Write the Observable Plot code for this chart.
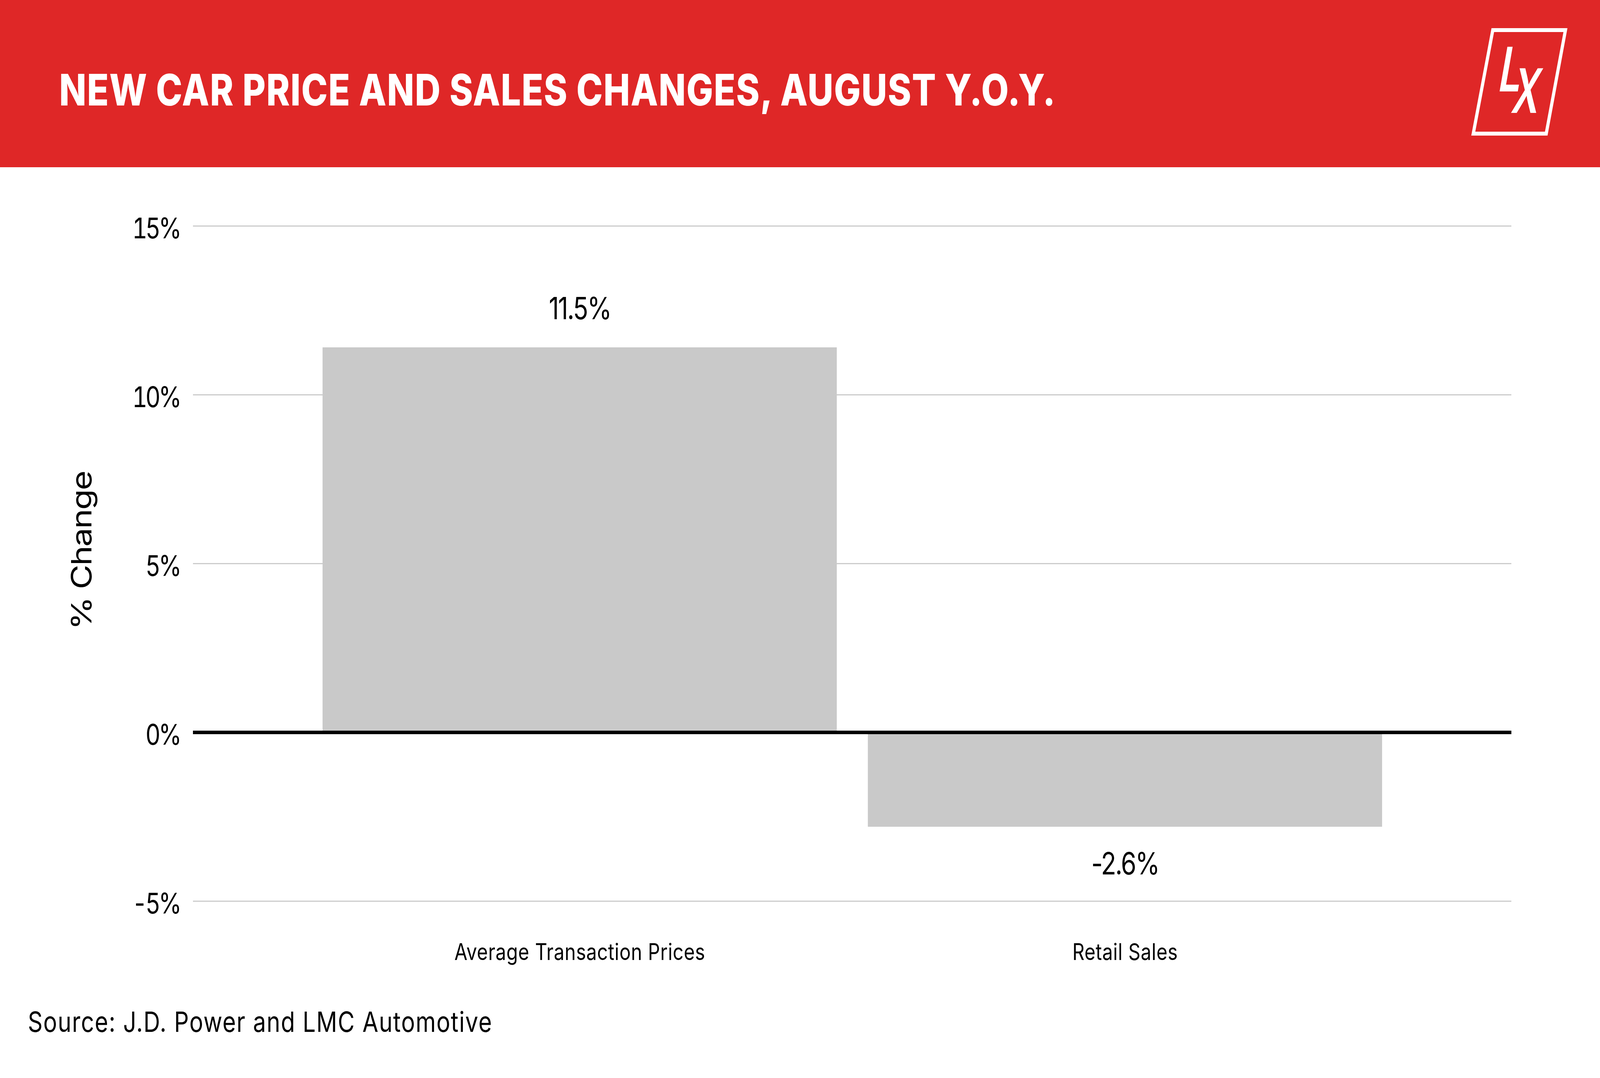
<!DOCTYPE html>
<html><head><meta charset="utf-8">
<script src="https://cdn.jsdelivr.net/npm/d3@7"></script>
<script src="https://cdn.jsdelivr.net/npm/@observablehq/plot@0.6"></script>
<style>
html,body{margin:0;padding:0;background:#fff;overflow:hidden;}
#page{position:absolute;left:0;top:0;width:5000px;height:2759px;transform-origin:0 0;font-family:Inter, sans-serif;background:#fff;}
#header{position:absolute;left:0;top:0;width:5000px;height:428px;background:#DF2727;}
#title{position:absolute;left:185px;top:174px;font-size:111px;line-height:111px;font-weight:800;letter-spacing:2px;color:#fff;white-space:nowrap;margin:0;}
#logo{position:absolute;left:0;top:0;}
#chart{position:absolute;left:0;top:428px;}
#source{position:absolute;left:87px;top:2579px;font-size:72px;line-height:72px;letter-spacing:2px;color:#000;white-space:nowrap;}
</style></head>
<body>
<div id="page">
<div id="header">
<h1 id="title"></h1>
<svg id="logo" width="5000" height="428">
<polygon points="4665,77 4892,77 4832,342 4604,342" fill="none" stroke="#fff" stroke-width="10"/>
<text font-family="Inter" font-size="157" font-weight="600" fill="#fff" transform="translate(4677,234) skewX(-12) scale(0.8,1)">L</text>
<text font-family="Inter" font-size="157" font-weight="600" fill="#fff" transform="translate(4719,289) skewX(-12) scale(0.75,1)">X</text>
</svg>
</div>
<div id="chart"></div>
<div id="source"></div>
</div>
<script>
const titleText = "NEW CAR PRICE AND SALES CHANGES, AUGUST Y.O.Y.";
const sourceText = "Source: J.D. Power and LMC Automotive";
const categories = ["Average Transaction Prices", "Retail Sales"];
const values = [11.4, -2.8];
const valueLabels = ["11.5%", "-2.6%"];
const yTicks = [-5, 0, 5, 10, 15];
const yTickLabels = ["-5%", "0%", "5%", "10%", "15%"];
const yAxisTitle = "% Change";

// the design is 5000 px wide; fit it to the actual window size
const page = document.getElementById("page");
const sx = window.innerWidth / 5000;
const sy = window.innerHeight / 2759;
page.style.transform = `scale(${sx}, ${sy})`;

document.getElementById("title").textContent = titleText;
document.getElementById("source").textContent = sourceText;

const data = categories.map((c, i) => ({category: c, value: values[i], label: valueLabels[i]}));

const chart = Plot.plot({
  width: 5000,
  height: 2100,
  marginLeft: 603,
  marginRight: 277,
  marginTop: 150,
  marginBottom: 222,
  x: {domain: categories, paddingInner: 0.057, paddingOuter: 0.237},
  y: {domain: [-5, 15]},
  style: {fontFamily: "Inter", color: "#000", background: "transparent"},
  marks: [
    Plot.gridY(yTicks, {stroke: "#cccccc", strokeOpacity: 1, strokeWidth: 3}),
    Plot.barY(data, {x: "category", y: "value", fill: "#c9c9c9"}),
    Plot.ruleY([0], {stroke: "#000", strokeWidth: 9}),
    Plot.axisY({ticks: yTicks, tickFormat: (d) => yTickLabels[yTicks.indexOf(d)], tickSize: 0, tickPadding: 42, fontSize: 73, dy: 8, label: null}),
    Plot.axisX({tickSize: 0, tickPadding: 109, fontSize: 59, label: null}),
    Plot.text(data.filter((d) => d.value > 0), {x: "category", y: "value", text: "label", lineAnchor: "bottom", dy: -73, fontSize: 78}),
    Plot.text(data.filter((d) => d.value < 0), {x: "category", y: "value", text: "label", lineAnchor: "top", dy: 66, fontSize: 78}),
    Plot.text([yAxisTitle], {frameAnchor: "left", rotate: -90, dx: -346, dy: -33, fontSize: 87, textAnchor: "middle", lineAnchor: "middle"})
  ]
});
chart.querySelectorAll("g[aria-label='y-axis tick label'] text").forEach((t) => t.setAttribute("letter-spacing", "-6"));
chart.querySelectorAll("g[aria-label='text'] text").forEach((t) => t.setAttribute("letter-spacing", "-3"));
chart.querySelectorAll("g[aria-label='x-axis tick label'] text").forEach((t) => t.setAttribute("letter-spacing", "0.8"));
document.getElementById("chart").appendChild(chart);
</script>
</body></html>
